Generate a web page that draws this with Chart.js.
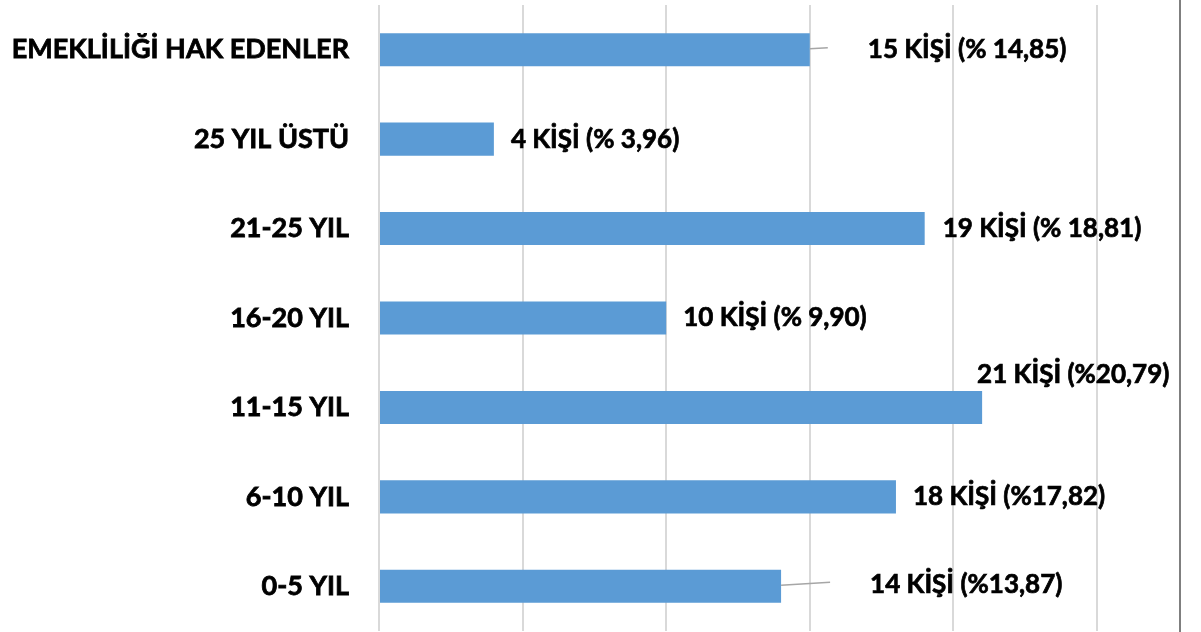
<!DOCTYPE html>
<html>
<head>
<meta charset="utf-8">
<script src="https://cdn.jsdelivr.net/npm/chart.js@4"></script>
<style>
  html, body { margin: 0; padding: 0; background: #fff; }
  #wrap { width: 1201px; height: 632px; position: relative; }
</style>
</head>
<body>
<div id="wrap"><canvas id="grafik" width="1201" height="632"></canvas></div>
<script>
// kategoriler ve degerler
const kategoriler = ['EMEKLİLİĞİ HAK EDENLER', '25 YIL ÜSTÜ', '21-25 YIL', '16-20 YIL', '11-15 YIL', '6-10 YIL', '0-5 YIL'];
const kisiSayisi = [15, 4, 19, 10, 21, 18, 14];
const etiketler = ['15 KİŞİ (% 14,85)', '4 KİŞİ (% 3,96)', '19 KİŞİ (% 18,81)', '10 KİŞİ (% 9,90)', '21 KİŞİ (%20,79)', '18 KİŞİ (%17,82)', '14 KİŞİ (%13,87)'];
const eksenMax = 25;
const eksenAdim = 5;

// etiket yerlesimi (cubuk ucundan kayma), cizgi: lider cizgisi var mi
const etiketKayma = [[58, 0, true], [17, 0, false], [18, 0, false], [17, 0, false], [-5, -33, false], [17, 0, false], [89, -2, true]];

const FONT = 'Lato, "Open Sans", sans-serif';

const etiketPlugin = {
    id: 'etiketler',
    afterDatasetsDraw(chart) {
        const ctx = chart.ctx;
        const meta = chart.getDatasetMeta(0);
        ctx.save();
        ctx.font = 'bold 26px ' + FONT;
        ctx.textBaseline = 'middle';
        ctx.textAlign = 'left';
        meta.data.forEach((bar, i) => {
            const k = etiketKayma[i];
            const x = bar.x + k[0];
            const y = bar.y + k[1];
            if (k[2]) {
                ctx.strokeStyle = '#a6a6a6';
                ctx.lineWidth = 1.5;
                ctx.beginPath();
                ctx.moveTo(bar.x, bar.y - 1);
                ctx.lineTo(x - 40, y - 2);
                ctx.stroke();
            }
            // biraz daha kalin gorunsun
            ctx.fillStyle = '#000';
            ctx.strokeStyle = '#000';
            ctx.lineWidth = 0.7;
            ctx.fillText(etiketler[i], x, y);
            ctx.strokeText(etiketler[i], x, y);
        });
        // resim cercevesi
        ctx.strokeStyle = '#7f7f7f';
        ctx.lineWidth = 2;
        ctx.beginPath();
        ctx.moveTo(1180, 0);
        ctx.lineTo(1180, chart.height);
        ctx.stroke();
        ctx.restore();
    }
};

new Chart(document.getElementById('grafik'), {
    type: 'bar',
    data: {
        labels: kategoriler,
        datasets: [{
            data: kisiSayisi,
            backgroundColor: '#5b9bd5',
            borderWidth: 0,
            categoryPercentage: 1,
            barPercentage: 0.37
        }]
    },
    options: {
        indexAxis: 'y',
        responsive: false,
        animation: false,
        layout: { padding: { top: 5, bottom: 1, right: 104, left: 0 } },
        plugins: { legend: { display: false }, tooltip: { enabled: false } },
        scales: {
            x: {
                min: 0,
                max: eksenMax,
                ticks: { display: false, stepSize: eksenAdim },
                grid: { color: '#d9d9d9', lineWidth: 2, drawTicks: false },
                border: { display: false },
                afterFit(scale) { scale.height = 0; scale.paddingLeft = 0; scale.paddingRight = 0; }
            },
            y: {
                afterFit(scale) { scale.width = 379; scale.paddingTop = 0; scale.paddingBottom = 0; },
                ticks: {
                    color: '#000',
                    textStrokeColor: '#000',
                    textStrokeWidth: 0.8,
                    font: { family: FONT, size: 27, weight: 'bold' },
                    padding: 30
                },
                grid: { display: false, drawTicks: false },
                border: { display: false }
            }
        }
    },
    plugins: [etiketPlugin]
});
</script>
</body>
</html>
